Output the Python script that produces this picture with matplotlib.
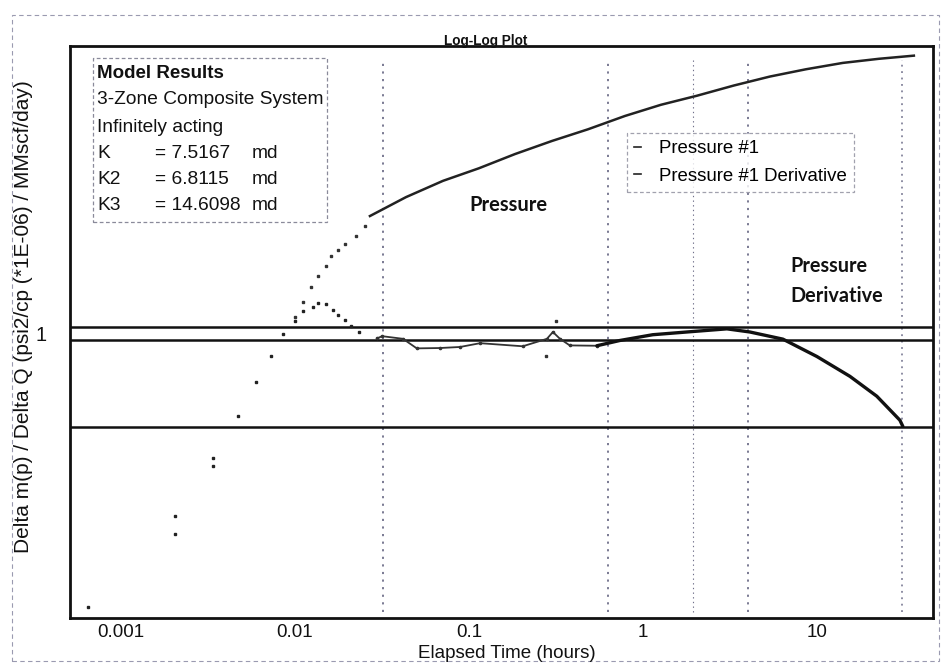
import matplotlib
matplotlib.use("Agg")
import matplotlib.pyplot as plt
from matplotlib.patches import Rectangle
from matplotlib.lines import Line2D
from matplotlib.ticker import NullLocator, FixedLocator, FixedFormatter

plt.rcParams['font.family'] = ['Liberation Sans', 'DejaVu Sans']

# ---------------- data ----------------
x_ticks = [0.001, 0.01, 0.1, 1, 10]
x_tick_labels = ["0.001", "0.01", "0.1", "1", "10"]
y_ticks = [1]
y_tick_labels = ["1"]

# Pressure #1 : sparse early points
pressure_early_t = [0.0100, 0.0111, 0.0124, 0.0136, 0.0151, 0.0161, 0.0177, 0.0195, 0.0225, 0.0254]
pressure_early_v = [1.11, 1.22, 1.34, 1.43, 1.52, 1.62, 1.68, 1.75, 1.84, 1.95]
# Pressure #1 : dense later data
pressure_t = [0.0270, 0.0435, 0.0710, 0.114, 0.184, 0.300, 0.483, 0.789, 1.27, 2.04,
              3.33, 5.37, 8.65, 14.1, 22.7, 36.1]
pressure_v = [2.08, 2.34, 2.59, 2.80, 3.06, 3.32, 3.57, 3.88, 4.16, 4.40,
              4.69, 4.96, 5.19, 5.40, 5.54, 5.65]

# Pressure #1 Derivative : early sparse points
deriv_early_t = [0.00065, 0.00205, 0.00205, 0.00337, 0.00337, 0.00468, 0.0060, 0.00731,
                 0.00855, 0.0100, 0.0111, 0.0127, 0.0136, 0.0151, 0.0166, 0.0177, 0.0195,
                 0.0211, 0.0235]
deriv_early_v = [0.182, 0.321, 0.287, 0.460, 0.438, 0.597, 0.738, 0.869,
                 1.00, 1.08, 1.15, 1.18, 1.21, 1.20, 1.16, 1.12, 1.09,
                 1.05, 1.01]
# Pressure #1 Derivative : noisy middle section
deriv_mid_t = [0.0296, 0.0317, 0.0418, 0.0502, 0.0681, 0.089, 0.116, 0.204, 0.281, 0.304,
               0.333, 0.380, 0.544]
deriv_mid_v = [0.97, 0.984, 0.968, 0.912, 0.914, 0.92, 0.942, 0.924, 0.968, 1.01,
               0.969, 0.929, 0.927]
deriv_outlier_t = [0.316, 0.277]
deriv_outlier_v = [1.08, 0.87]
# Pressure #1 Derivative : smooth late section
deriv_late_t = [0.544, 0.738, 1.14, 1.79, 3.04, 4.12, 6.38, 10.0, 15.5, 22.1, 30.0, 31.2]
deriv_late_v = [0.927, 0.958, 0.993, 1.01, 1.03, 1.01, 0.966, 0.867, 0.766, 0.677, 0.583, 0.561]

# Reference levels (horizontal lines) and region markers (vertical dotted lines)
h_levels = [1.04, 0.96, 0.558]
v_markers = [0.032, 0.63, 1.95, 4.0, 31.0]
v_marker_weight = [1.3, 1.3, 0.8, 1.3, 1.1]

model_title = "Model Results"
model_lines = ["3-Zone Composite System", "Infinitely acting"]
perm_names = ["K", "K2", "K3"]
perm_values = ["= 7.5167", "= 6.8115", "= 14.6098"]
perm_unit = "md"

legend_labels = ["Pressure #1", "Pressure #1 Derivative"]

# ---------------- figure ----------------
W, H = 943, 667
fig = plt.figure(figsize=(W / 100, H / 100), dpi=100)
fig.patch.set_facecolor("white")

def fx(px):
    return px / W

def fy(py):
    return 1 - py / H

ax = fig.add_axes([fx(70), fy(618), (933 - 70) / W, (618 - 46) / H])
ax.set_xscale("log")
ax.set_yscale("log")
ax.set_xlim(5.1e-4, 46.5)
ax.set_ylim(0.17, 6.0)

for s in ax.spines.values():
    s.set_linewidth(2.0)
    s.set_color("#111111")

ax.xaxis.set_major_locator(FixedLocator(x_ticks))
ax.xaxis.set_major_formatter(FixedFormatter(x_tick_labels))
ax.xaxis.set_minor_locator(NullLocator())
ax.yaxis.set_major_locator(FixedLocator(y_ticks))
ax.yaxis.set_major_formatter(FixedFormatter(y_tick_labels))
ax.yaxis.set_minor_locator(NullLocator())
ax.tick_params(axis="x", length=0, pad=4, labelsize=13.5, labelcolor="#111111")
ax.tick_params(axis="y", length=0, pad=17, labelsize=14.5, labelcolor="#111111")

# vertical dotted region markers
for xv, w in zip(v_markers, v_marker_weight):
    ax.axvline(xv, ymin=0.01, ymax=0.975, color="#6f6f8a", lw=w,
               linestyle=(0, (1.2, 3.0)), zorder=1)

# horizontal reference lines
for yv in h_levels:
    ax.axhline(yv, color="#111111", lw=1.8, zorder=2)

# pressure
ax.plot(pressure_early_t, pressure_early_v, linestyle="none", marker="s",
        ms=1.7, color="#333333", zorder=3)
ax.plot(pressure_t, pressure_v, color="#222222", lw=1.8, zorder=3)

# derivative
ax.plot(deriv_early_t, deriv_early_v, linestyle="none", marker="s",
        ms=2.0, color="#222222", zorder=4)
ax.plot(deriv_mid_t, deriv_mid_v, color="#333333", lw=1.3,
        marker="o", ms=1.6, zorder=4)
ax.plot(deriv_outlier_t, deriv_outlier_v, linestyle="none", marker="s",
        ms=1.8, color="#333333", zorder=4)
ax.plot(deriv_late_t, deriv_late_v, color="#111111", lw=2.4, zorder=4,
        solid_capstyle="round")

# legend
handles = [Line2D([], [], color="#222222", lw=1.2) for _ in legend_labels]
leg = ax.legend(handles, legend_labels, loc="upper left",
                bbox_to_anchor=((627 - 70) / 863, (618 - 133) / 572),
                handlelength=0.35, handletextpad=0.95, fontsize=13.4,
                frameon=True, fancybox=False, borderpad=0.4, labelspacing=0.55,
                borderaxespad=0)
frame = leg.get_frame()
frame.set_edgecolor("#8a8a9a")
frame.set_linestyle((0, (3, 2)))
frame.set_linewidth(0.9)

# model results box
fig.patches.append(Rectangle((fx(93), fy(222)), fx(327) - fx(93), fy(58) - fy(222),
                             transform=fig.transFigure, fill=False,
                             edgecolor="#8a8a9a", lw=0.9, linestyle=(0, (3, 2))))
fig.text(fx(97), fy(73), model_title, fontsize=13.5, fontweight="bold",
         va="center", ha="left", color="#111111")
for i, line in enumerate(model_lines):
    fig.text(fx(97), fy(100 + 27 * i), line, fontsize=13.8, va="center", ha="left",
             color="#111111")
for i, (n, v) in enumerate(zip(perm_names, perm_values)):
    yy = fy(153 + 26.5 * i)
    fig.text(fx(97), yy, n, fontsize=13.8, va="center", ha="left", color="#111111")
    fig.text(fx(155), yy, v, fontsize=13.8, va="center", ha="left", color="#111111")
    fig.text(fx(252), yy, perm_unit, fontsize=13.8, va="center", ha="left", color="#111111")

# annotations
fig.text(fx(508), fy(205), "Pressure", fontsize=14.5, fontweight="bold",
         family=["Lato", "DejaVu Sans"], ha="center", va="center", color="#111111")
fig.text(fx(790), fy(266), "Pressure", fontsize=14.3, fontweight="bold",
         family=["Lato", "DejaVu Sans"], ha="left", va="center", color="#111111")
fig.text(fx(790), fy(296), "Derivative", fontsize=14.3, fontweight="bold",
         family=["Lato", "DejaVu Sans"], ha="left", va="center", color="#111111")

# title and axis labels
fig.text(fx(486), fy(41), "Log-Log Plot", fontsize=9.8, fontweight="bold",
         ha="center", va="center", color="#111111")
fig.text(fx(507), fy(654), "Elapsed Time (hours)", fontsize=13.5,
         ha="center", va="center", color="#111111")
fig.text(fx(24), fy(317), "Delta m(p) / Delta Q (psi2/cp (*1E-06) / MMscf/day)",
         fontsize=15, rotation=90, ha="center", va="center", color="#111111")

# outer dashed border
fig.patches.append(Rectangle((fx(12), fy(661)), fx(939) - fx(12), fy(15) - fy(661),
                             transform=fig.transFigure, fill=False,
                             edgecolor="#9a9ab0", lw=0.8, linestyle=(0, (4, 3))))

fig.savefig("out.png", dpi=100, facecolor="white")
